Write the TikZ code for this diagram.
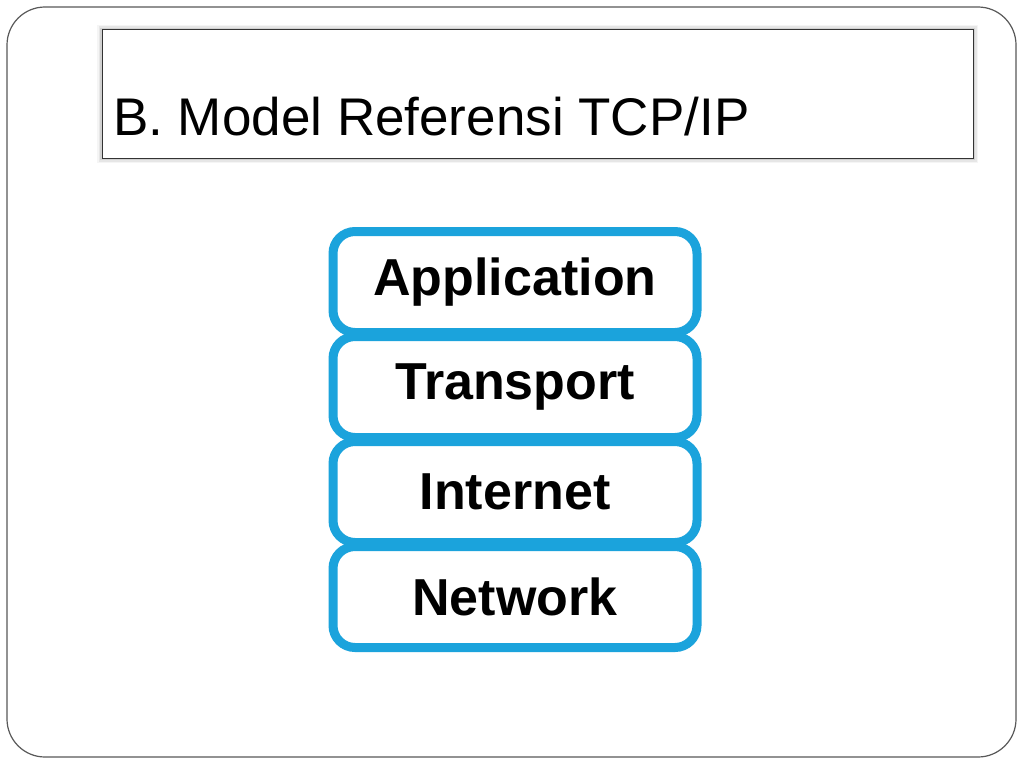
\documentclass[tikz,border=0pt]{standalone}
\usepackage{fontspec}
\setmainfont{Liberation Sans}
\begin{document}
\begin{tikzpicture}[x=1pt,y=-1pt,
  layerbox/.style={draw=layerblue, line width=9pt, rounded corners=22pt, fill=white,
    minimum width=364pt, minimum height=101pt, inner sep=0pt,
    font=\fontsize{52}{56}\selectfont\bfseries, text=black},
  frame/.style={draw=framegray, line width=1.2pt, rounded corners=38pt}]
\definecolor{layerblue}{HTML}{1BA3DC}
\definecolor{framegray}{HTML}{595959}
\useasboundingbox (0,0) rectangle (1024,768);
\fill[white] (0,0) rectangle (1024,768);
% outer slide frame
\draw[frame] (7,7) rectangle (1016,757);
% title box with soft shadow
\foreach \o/\c in {5/0.04,3.5/0.06,2/0.09}{
  \fill[black, opacity=\c] (102-\o,30-\o) rectangle (973+\o,158+\o);}
\node[draw=black!80, line width=1pt, fill=white, minimum width=871pt, minimum height=128pt,
  inner sep=0pt] (titlebox) at (537.5,94) {};
\node[anchor=base west, font=\fontsize{53}{56}\selectfont, inner sep=0pt] (title) at (113,135) {B. Model Referensi TCP/IP};
% layer stack
\node[layerbox] (app) at (515,282) {Application};
\node[layerbox] (trans) at (515,387) {Transport};
\node[layerbox] (inet) at (515,492) {Internet};
\node[layerbox] (net) at (515,597) {Network};
\end{tikzpicture}
\end{document}
